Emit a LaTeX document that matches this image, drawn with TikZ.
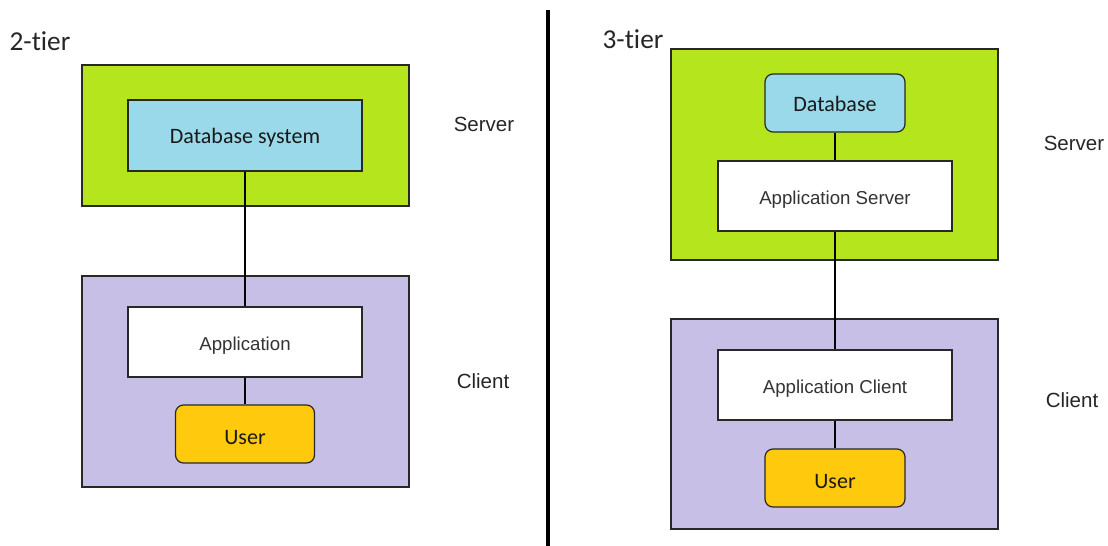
\documentclass[tikz,border=0pt]{standalone}
\usepackage{fontspec}
\setmainfont{Liberation Sans}
\newfontfamily\calfont[Ligatures=NoCommon]{Carlito}
\definecolor{grn}{RGB}{181,230,29}
\definecolor{pur}{RGB}{200,191,231}
\definecolor{blu}{RGB}{153,217,234}
\definecolor{yel}{RGB}{255,201,14}
\definecolor{edge}{RGB}{40,40,40}
\definecolor{txt}{RGB}{51,51,51}
\def\px{0.75pt}
\tikzset{
  box/.style={draw=edge, line width=0.9pt, inner sep=0pt, minimum width=#1, text depth=0pt},
  outer/.style={box=327*\px},
  wide/.style={box=234*\px, fill=white, minimum height=70*\px, font=\fontsize{14pt}{16pt}\selectfont, text=txt, text height=12.5pt},
  small/.style={box=140*\px, minimum height=58*\px, rounded corners=6pt, font=\calfont\fontsize{16.5pt}{18pt}\selectfont, text=black!90, text height=16pt},
  side/.style={font=\fontsize{15.4pt}{18pt}\selectfont, text=black!85},
  title/.style={font=\calfont\fontsize{20.5pt}{24pt}\selectfont, text=black!85},
  link/.style={draw=black, line width=0.8pt}
}
\begin{document}
\begin{tikzpicture}[x=0.75pt,y=-0.75pt]
\useasboundingbox (0,0) rectangle (1108,546);
% left
\node[title] (t2) at (40,41) {2-tier};
\node[outer, fill=grn, minimum height=141*\px] (g1) at (245.5,135.5) {};
\node[box=234*\px, fill=blu, minimum height=71*\px, font=\calfont\fontsize{16.5pt}{18pt}\selectfont, text=black!90, text height=11.8pt] (db1) at (245,135.5) {Database system};
\node[outer, fill=pur, minimum height=211*\px] (p1) at (245.5,381.5) {};
\node[wide] (app1) at (245,342) {Application};
\node[small, fill=yel, minimum width=139*\px] (u1) at (245,434) {User};
\draw[link] (db1.south) -- (app1.north);
\draw[link] (app1.south) -- (u1.north);
\node[side] (s1) at (484,124) {Server};
\node[side] (c1) at (483,381) {Client};
% separator
\coordinate (sa) at (548,10);
\coordinate (sb) at (548,546);
\draw[line width=3.5pt] (sa) -- (sb);
% right
\node[title] (t3) at (633,39) {3-tier};
\node[outer, fill=grn, minimum height=211*\px] (g2) at (834.5,154.5) {};
\node[small, fill=blu, text height=13pt] (db2) at (835,103) {Database};
\node[wide] (as2) at (835,196) {Application Server};
\node[outer, fill=pur, minimum height=210*\px] (p2) at (834.5,424) {};
\node[wide] (ac2) at (835,385) {Application Client};
\node[small, fill=yel] (u2) at (835,478) {User};
\draw[link] (db2.south) -- (as2.north);
\draw[link] (as2.south) -- (ac2.north);
\draw[link] (ac2.south) -- (u2.north);
\node[side] (s2) at (1074,143) {Server};
\node[side] (c2) at (1072,400) {Client};
\end{tikzpicture}
\end{document}
